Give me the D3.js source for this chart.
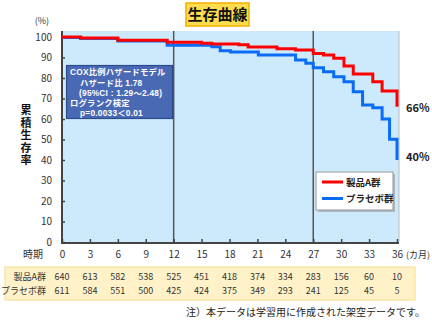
<!DOCTYPE html>
<html><head><meta charset="utf-8">
<script src="https://cdn.jsdelivr.net/npm/d3@7"></script>
<style>
html,body{margin:0;padding:0;background:#fff;}
svg{display:block;}
text{font-family:"Noto Sans CJK JP","Noto Sans",sans-serif;}
text.box{font-family:"Liberation Sans","Noto Sans CJK JP",sans-serif;}
</style></head>
<body>
<script>
const xTicks = [0,3,6,9,12,15,18,21,24,27,30,33,36];
const yTicks = [0,10,20,30,40,50,60,70,80,90,100];
const redTimes = [0, 2, 6, 11.3, 15, 16.1, 19, 20, 23.1, 25.1, 27, 28.1, 29.2, 30.3, 31.3, 33.4, 34.4, 36];
const redVals  = [100, 99.5, 98.4, 97.4, 96.9, 96.6, 96.2, 95.1, 94.3, 93.7, 92.0, 91.2, 89.6, 85.9, 82.0, 78.2, 73.7, 66];
const blueTimes = [0, 2, 6, 11.3, 16.1, 17, 18.1, 21.1, 25.1, 26.2, 27, 28.1, 29.2, 30.3, 31.3, 32.3, 33.4, 34.4, 35.2, 36];
const blueVals  = [99.8, 99.3, 98, 96, 95.3, 93.3, 92.7, 91.2, 88.8, 87.2, 85, 83.1, 80.6, 78.2, 73.3, 66.8, 65.5, 60, 50.1, 40];
const refLines = [12, 27];
const seriesNames = ["製品A群", "プラセボ群"];
const endLabels = ["66%", "40%"];
const riskA = [640,613,582,538,525,451,418,374,334,283,156,60,10];
const riskP = [611,584,551,500,425,424,375,349,293,241,125,45,5];
const boxLines = ["COX比例ハザードモデル", "ハザード比 1.78", "(95%CI : 1.29～2.48)", "ログランク検定", "p=0.0033＜0.01"];

const W = 432, H = 324;
const svg = d3.select("body").append("svg").attr("width", W).attr("height", H);
const x = d3.scaleLinear().domain([0,36]).range([62,397]);
const y = d3.scaleLinear().domain([0,100]).range([242,37]);

// title
svg.append("rect").attr("x",186).attr("y",3).attr("width",63).attr("height",23)
  .attr("fill","#ffdc4e").attr("stroke","#f0b000").attr("stroke-width",1.5);
svg.append("text").attr("x",217.5).attr("y",20).attr("text-anchor","middle")
  .attr("font-size",15).attr("font-weight","bold").attr("fill","#111").text("生存曲線");

// plot bg
svg.append("rect").attr("x",62).attr("y",31).attr("width",337).attr("height",211)
  .attr("fill","#cdeafc").attr("stroke","none");
svg.append("line").attr("x1",399).attr("x2",399).attr("y1",31).attr("y2",242).attr("stroke","#bbb").attr("stroke-width",1);

// ref lines
svg.selectAll(".ref").data(refLines).enter().append("line")
  .attr("x1",d=>x(d)).attr("x2",d=>x(d)).attr("y1",31).attr("y2",242)
  .attr("stroke","#555").attr("stroke-width",1.5);

// axes
const yAxis = svg.append("g").attr("transform","translate(62,0)")
  .call(d3.axisLeft(y).tickValues(yTicks).tickSize(-3).tickPadding(10));
yAxis.select(".domain").remove();
yAxis.selectAll(".tick line").attr("stroke","#444").attr("stroke-width",1.5);
yAxis.selectAll("text").attr("font-size",10).attr("fill","#333");

const xAxis = svg.append("g").attr("transform","translate(0,242)")
  .call(d3.axisBottom(x).tickValues(xTicks).tickSize(-3).tickPadding(9));
xAxis.select(".domain").remove();
xAxis.selectAll(".tick line").attr("stroke","#444").attr("stroke-width",1.5);
xAxis.selectAll("text").attr("font-size",10).attr("fill","#333");

svg.append("line").attr("x1",62).attr("x2",62).attr("y1",31).attr("y2",243).attr("stroke","#444").attr("stroke-width",2);
svg.append("line").attr("x1",61).attr("x2",399).attr("y1",243).attr("y2",243).attr("stroke","#444").attr("stroke-width",2);

svg.append("text").attr("x",49).attr("y",24).attr("text-anchor","end").attr("font-size",9).attr("fill","#333").text("(%)");
svg.append("text").attr("x",406).attr("y",258).attr("font-size",9).attr("fill","#333").text("(カ月)");
svg.append("text").attr("x",33).attr("y",258).attr("text-anchor","middle").attr("font-size",10).attr("fill","#333").text("時期");

// y title (vertical text, single element)
svg.append("text").attr("x",26).attr("y",136).attr("text-anchor","middle")
  .style("writing-mode","vertical-rl")
  .attr("font-size",11).attr("font-weight","bold").attr("letter-spacing",1.5)
  .attr("fill","#111").text("累積生存率");

// curves
const line = d3.line().curve(d3.curveStepAfter).x(d=>x(d[0])).y(d=>y(d[1]));
svg.append("path").datum(blueTimes.map((t,i)=>[t,blueVals[i]]))
  .attr("d",line).attr("fill","none").attr("stroke","#0a6cf5").attr("stroke-width",3);
svg.append("path").datum(redTimes.map((t,i)=>[t,redVals[i]]))
  .attr("d",line).attr("fill","none").attr("stroke","#ff0000").attr("stroke-width",3);

// end labels
svg.append("text").attr("x",406).attr("y",y(redVals[redVals.length-1])+5).attr("font-size",11).attr("font-weight","bold").attr("fill","#222").text(endLabels[0]);
svg.append("text").attr("x",406).attr("y",y(blueVals[blueVals.length-1])+1).attr("font-size",11).attr("font-weight","bold").attr("fill","#222").text(endLabels[1]);

// hazard box
svg.append("rect").attr("x",66.5).attr("y",65.5).attr("width",106).attr("height",53)
  .attr("fill","#4a69b5").attr("stroke","#2c4c8c").attr("stroke-width",1.2);
const bx = [70,80,79,70,80];
svg.selectAll(".bl").data(boxLines).enter().append("text").attr("class","box")
  .attr("x",(d,i)=>bx[i]).attr("y",(d,i)=>75.3+i*10.2)
  .attr("font-size",8.3).attr("font-weight","bold").attr("fill","#fff")
  .attr("letter-spacing",0.25).text(d=>d);

// legend
svg.append("rect").attr("x",318).attr("y",174).attr("width",77).attr("height",38).attr("fill","#888").attr("opacity",0.5);
svg.append("rect").attr("x",316).attr("y",172).attr("width",77).attr("height",38).attr("fill","#fff").attr("stroke","#999").attr("stroke-width",1);
const legColors = ["#ff0000","#0a6cf5"];
seriesNames.forEach((n,i)=>{
  const ly = 182 + i*16.5;
  svg.append("line").attr("x1",322).attr("x2",343).attr("y1",ly).attr("y2",ly).attr("stroke",legColors[i]).attr("stroke-width",3);
  svg.append("text").attr("x",346).attr("y",ly+3.5).attr("font-size",9.5).attr("font-weight","bold").attr("fill","#222").text(n);
});

// risk table
svg.append("rect").attr("x",5).attr("y",267).attr("width",410).attr("height",33).attr("fill","#fff2c8").attr("stroke","#f6dc8c").attr("stroke-width",1);
const rows = [riskA, riskP];
rows.forEach((r,ri)=>{
  const ry = 280 + ri*14;
  svg.append("text").attr("x",46).attr("y",ry).attr("text-anchor","end").attr("font-size",9).attr("fill","#333").text(seriesNames[ri]);
  svg.selectAll(".r"+ri).data(r).enter().append("text")
    .attr("x",(d,i)=>x(xTicks[i])).attr("y",ry).attr("text-anchor","middle")
    .attr("font-size",9).attr("fill","#333").text(d=>d);
});

// footnote
svg.append("text").attr("x",425).attr("y",316).attr("text-anchor","end").attr("font-size",10).attr("fill","#222").text("注）本データは学習用に作成された架空データです。");
</script>
</body></html>
